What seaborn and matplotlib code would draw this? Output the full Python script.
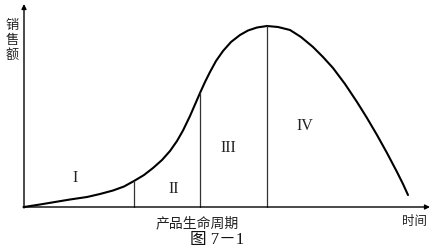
import matplotlib
matplotlib.use("Agg")
import matplotlib.pyplot as plt
import seaborn as sns
import pandas as pd

sns.set_theme(style="white")
plt.rcParams['font.family'] = ['Noto Sans CJK SC', 'DejaVu Sans']

# Curve points (x: time, y: sales, image-like coords)
curve_x = [24, 40, 55, 70, 87, 100, 113, 124, 134, 144, 153, 162, 170, 177, 183,
           190, 195, 200, 205, 210, 216, 223, 231, 240, 248, 257, 267, 278, 290,
           301, 313, 323, 333, 345, 357, 367, 377, 387, 397, 403, 408]
curve_y = [207, 204.5, 202, 199.5, 197, 194, 190.5, 186.5, 181, 175, 168, 160, 151, 141, 130.5,
           116, 104.5, 93, 82, 72, 61, 51, 42, 35, 30.5, 27.5, 26, 27, 30,
           37, 47, 57, 68, 84, 102, 118, 135, 153, 172, 184, 195]

# Stage boundaries
bound_x = [134, 200, 267]
bound_top = [181, 93, 26]
stage_labels = ["I", "II", "III", "IV"]
stage_x = [75, 174, 228, 305]
stage_y = [178, 189, 148, 126]

y_label_chars = ["销", "售", "额"]
y_label_pos = [26, 40.5, 55]
x_label = "产品生命周期"
time_label = "时间"
caption = "图 7－1"

fig = plt.figure(figsize=(4.36, 2.5), dpi=100)
ax = fig.add_axes([0, 0, 1, 1])
ax.set_xlim(0, 436)
ax.set_ylim(250, 0)
ax.axis("off")

df = pd.DataFrame({"x": curve_x, "y": curve_y})
sns.lineplot(data=df, x="x", y="y", ax=ax, color="black", linewidth=1.5, sort=False,
             estimator=None)

for bx, bt in zip(bound_x, bound_top):
    ax.plot([bx, bx], [bt, 207], color="#333333", linewidth=0.9)

# axes with arrows
ax.annotate("", xy=(24, 4), xytext=(24, 208),
            arrowprops=dict(arrowstyle="-|>", color="black", lw=1.0,
                            mutation_scale=7, shrinkA=0, shrinkB=0))
ax.annotate("", xy=(430, 207), xytext=(23, 207),
            arrowprops=dict(arrowstyle="-|>", color="black", lw=1.0,
                            mutation_scale=7, shrinkA=0, shrinkB=0))

for lab, sx, sy in zip(stage_labels, stage_x, stage_y):
    ax.text(sx, sy, lab, fontsize=11.5, family=["Liberation Serif"], ha="center",
            va="center", color="#222222")

for ch, cy in zip(y_label_chars, y_label_pos):
    ax.text(12, cy, ch, fontsize=9.5, ha="center", va="center", color="#222222")
ax.text(197, 223, x_label, fontsize=10, ha="center", va="center", color="#222222")
ax.text(414, 222, time_label, fontsize=9, ha="center", va="center", color="#222222")
ax.text(217, 240, caption, fontsize=12, ha="center", va="center", color="#111111",
        family=["Liberation Serif", "Noto Sans CJK SC"])

fig.savefig("out.png", dpi=100)
